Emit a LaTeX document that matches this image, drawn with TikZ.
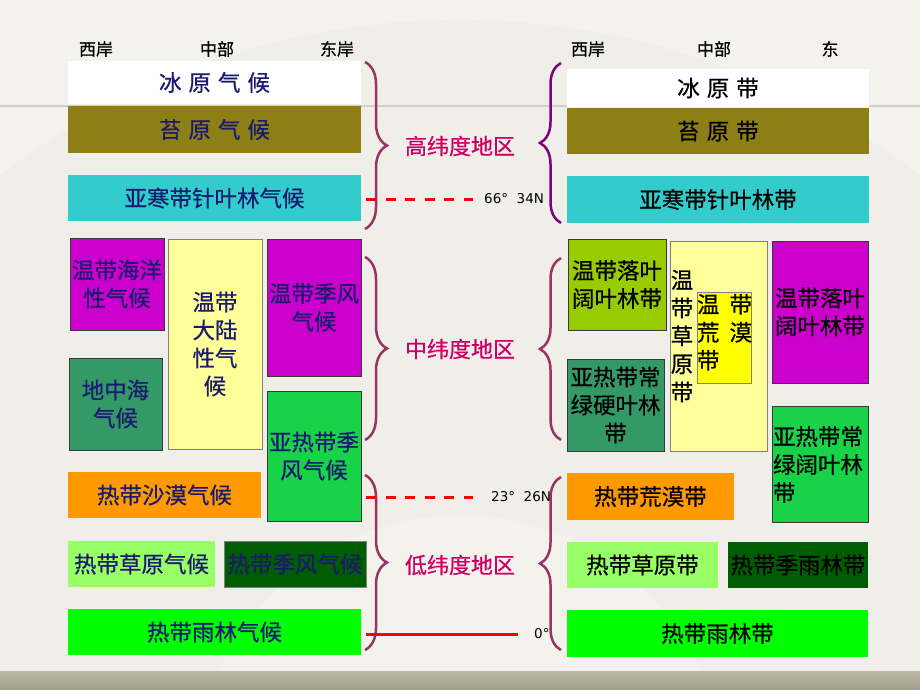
\documentclass[tikz,border=0pt]{standalone}
\usepackage{fontspec}
\setmainfont{Noto Sans CJK SC}[FakeBold=0.6]
\newfontfamily\latfont{DejaVu Sans}
\usetikzlibrary{decorations.pathreplacing}
\definecolor{bgc}{HTML}{F3F2EC}
\definecolor{fanc}{HTML}{ECEBE4}
\definecolor{navy}{HTML}{1A1A70}
\definecolor{olive}{HTML}{8E7F14}
\definecolor{cyanb}{HTML}{33CCCC}
\definecolor{magb}{HTML}{CC00CC}
\definecolor{lyel}{HTML}{FFFF99}
\definecolor{medg}{HTML}{339966}
\definecolor{brg}{HTML}{18D348}
\definecolor{orab}{HTML}{FF9900}
\definecolor{lgr}{HTML}{99FF66}
\definecolor{dkg}{HTML}{005C00}
\definecolor{rfg}{HTML}{00FF00}
\definecolor{ygr}{HTML}{99CC00}
\definecolor{yelb}{HTML}{FFFF00}
\definecolor{brm}{HTML}{993366}
\definecolor{brp}{HTML}{800080}
\definecolor{pinkt}{HTML}{CC0066}
\definecolor{boxline}{HTML}{3A3A3A}
\definecolor{tline}{HTML}{D2D0C4}
\begin{document}
\begin{tikzpicture}[x=1pt,y=-1pt,
  box/.style={rectangle, inner sep=0pt, outer sep=0pt, align=center,
    font=\fontsize{22.5}{28}\selectfont},
  bbox/.style={box, draw=boxline, line width=0.9pt},
  lt/.style={text=navy},
  rt/.style={text=black},
  hdr/.style={font=\fontsize{17}{20}\selectfont, text=black, inner sep=0pt},
  zone/.style={font=\fontsize{22}{26}\selectfont, text=pinkt, inner sep=0pt},
  latl/.style={font=\latfont\fontsize{13.5}{15}\selectfont, text=black, inner sep=0pt},
  lbrace/.style={decorate, decoration={brace, amplitude=22pt}, line width=2.5pt, draw=brm},
  rbrace/.style={decorate, decoration={brace, amplitude=21pt}, line width=2.5pt},
  latline/.style={draw=red, line width=3pt},
  dashlat/.style={latline, dash pattern=on 10pt off 9.5pt}
]
\useasboundingbox (0,0) rectangle (920,690);
% background
\fill[bgc] (0,0) rectangle (920,690);
\fill[fanc, opacity=0.45] ([shift={(-175:760)}]460,780) arc[start angle=-175,end angle=-5,radius=760]
  -- ([shift={(-5:265)}]460,780) arc[start angle=-5,end angle=-175,radius=265] -- cycle;
\draw[tline, line width=1.5pt] (0,106) -- (920,106);
\shade[top color={rgb,255:red,190;green,186;blue,166}, bottom color={rgb,255:red,160;green,156;blue,132}] (0,671) rectangle (920,690);

% headers
\node[hdr] (hLW) at (96,49) {西岸};
\node[hdr] (hLM) at (217,49) {中部};
\node[hdr] (hLE) at (337,49) {东岸};
\node[hdr] (hRW) at (588,49) {西岸};
\node[hdr] (hRM) at (714,49) {中部};
\node[hdr] (hRE) at (830,49) {东};

% left climates
\node[box, lt, fill=white, minimum width=293pt, minimum height=43pt] (Lice) at (214.5,82.5) {冰\hspace{7pt}原\hspace{7pt}气\hspace{7pt}候};
\node[box, lt, fill=olive, minimum width=293pt, minimum height=47pt] (Ltun) at (214.5,129.5) {苔\hspace{7pt}原\hspace{7pt}气\hspace{7pt}候};
\node[box, lt, fill=cyanb, minimum width=293pt, minimum height=46pt] (Lbor) at (214.5,198) {亚寒带针叶林气候};
\node[bbox, lt, fill=magb, minimum width=94pt, minimum height=92pt] (Locn) at (117,284) {温带海洋\\性气候};
\node[bbox, lt, fill=lyel, draw=gray, minimum width=94pt, minimum height=210pt] (Lcon) at (215,344) {温带\\大陆\\性气\\候};
\node[bbox, lt, fill=magb, minimum width=94pt, minimum height=137pt] (Lmon) at (314,307.5) {温带季风\\气候};
\node[bbox, lt, fill=medg, minimum width=93pt, minimum height=92pt] (Lmed) at (115.5,404) {地中海\\气候};
\node[bbox, lt, fill=brg, minimum width=94pt, minimum height=130pt] (Lstm) at (314,456) {亚热带季\\风气候};
\node[box, lt, fill=orab, minimum width=193pt, minimum height=46pt] (Ldes) at (164.5,495) {热带沙漠气候};
\node[box, lt, fill=lgr, minimum width=147pt, minimum height=46pt] (Lsav) at (141.5,564) {热带草原气候};
\node[bbox, lt, fill=dkg, draw=gray, minimum width=142pt, minimum height=46pt] (Ltmo) at (295,564) {热带季风气候};
\node[box, lt, fill=rfg, minimum width=293pt, minimum height=46pt] (Lrf) at (214.5,632) {热带雨林气候};

% right zones
\node[box, rt, fill=white, minimum width=302pt, minimum height=38pt] (Rice) at (718,88) {冰\hspace{7pt}原\hspace{7pt}带};
\node[box, rt, fill=olive, minimum width=302pt, minimum height=46pt] (Rtun) at (718,131) {苔\hspace{7pt}原\hspace{7pt}带};
\node[box, rt, fill=cyanb, minimum width=302pt, minimum height=47pt] (Rbor) at (718,199.5) {亚寒带针叶林带};
\node[bbox, rt, fill=ygr, minimum width=98pt, minimum height=91pt] (Rdec1) at (617,284.5) {温带落叶\\阔叶林带};
\node[bbox, rt, fill=lyel, draw=gray, minimum width=97pt, minimum height=210pt] (Rste) at (718.5,346) {};
\node[box, rt, inner sep=0pt] (RsteT) at (682,336) {温\\带\\草\\原\\带};
\node[bbox, rt, fill=yelb, draw=gray, minimum width=54pt, minimum height=91pt] (Rtds) at (724,337.5) {};
\node[box, rt, align=left, anchor=north west] (RtdsT) at (697,294) {温\hspace{10pt}带\\荒\hspace{10pt}漠\\带};
\node[bbox, rt, fill=magb, minimum width=96pt, minimum height=142pt] (Rdec2) at (820,312) {温带落叶\\阔叶林带};
\node[bbox, rt, fill=medg, minimum width=97pt, minimum height=92pt] (Rscl) at (615.5,405) {亚热带常\\绿硬叶林\\带};
\node[bbox, rt, fill=brg, minimum width=96pt, minimum height=116pt] (Reb) at (820,464) {};
\node[box, rt, align=left, anchor=west] (RebT) at (773,464.5) {亚热带常\\绿阔叶林\\带};
\node[box, rt, fill=orab, minimum width=167pt, minimum height=47pt] (Rdes) at (650.5,496.5) {热带荒漠带};
\node[box, rt, fill=lgr, minimum width=151pt, minimum height=46pt] (Rsav) at (642.5,565) {热带草原带};
\node[box, rt, fill=dkg, minimum width=140pt, minimum height=46pt] (Rmon) at (798,565) {热带季雨林带};
\node[box, rt, fill=rfg, minimum width=301pt, minimum height=47pt] (Rrf) at (717.5,633.5) {热带雨林带};

% zone labels
\node[zone] (zHigh) at (460,146) {高纬度地区};
\node[zone] (zMid) at (460,349) {中纬度地区};
\node[zone] (zLow) at (460,565) {低纬度地区};

% braces
\coordinate (bL1a) at (365,62);  \coordinate (bL1b) at (365,229);
\coordinate (bL2a) at (365,257); \coordinate (bL2b) at (365,440);
\coordinate (bL3a) at (365,475); \coordinate (bL3b) at (365,650);
\coordinate (bR1a) at (561,63);  \coordinate (bR1b) at (561,223);
\coordinate (bR2a) at (561,258); \coordinate (bR2b) at (561,440);
\coordinate (bR3a) at (561,477); \coordinate (bR3b) at (561,650);
\draw[lbrace] (bL1a) -- (bL1b);
\draw[lbrace] (bL2a) -- (bL2b);
\draw[lbrace] (bL3a) -- (bL3b);
\draw[rbrace, draw=brp] (bR1b) -- (bR1a);
\draw[rbrace, draw=brm] (bR2b) -- (bR2a);
\draw[rbrace, draw=brm] (bR3b) -- (bR3a);

% latitude lines
\node[latl, anchor=west] (l66) at (484,199) {66°\ \ 34N};
\node[latl, anchor=west] (l23) at (491,497) {23°\ \ 26N};
\node[latl, anchor=west] (l0) at (534,634) {0°};
\coordinate (d66) at (366,199);
\coordinate (d23) at (366,497);
\coordinate (d0) at (366,634);
\draw[dashlat] (d66) -- ([xshift=-11pt]l66.west);
\draw[dashlat] (d23) -- ([xshift=-18pt]l23.west);
\draw[latline] (d0) -- ([xshift=-16pt]l0.west);
\end{tikzpicture}
\end{document}
